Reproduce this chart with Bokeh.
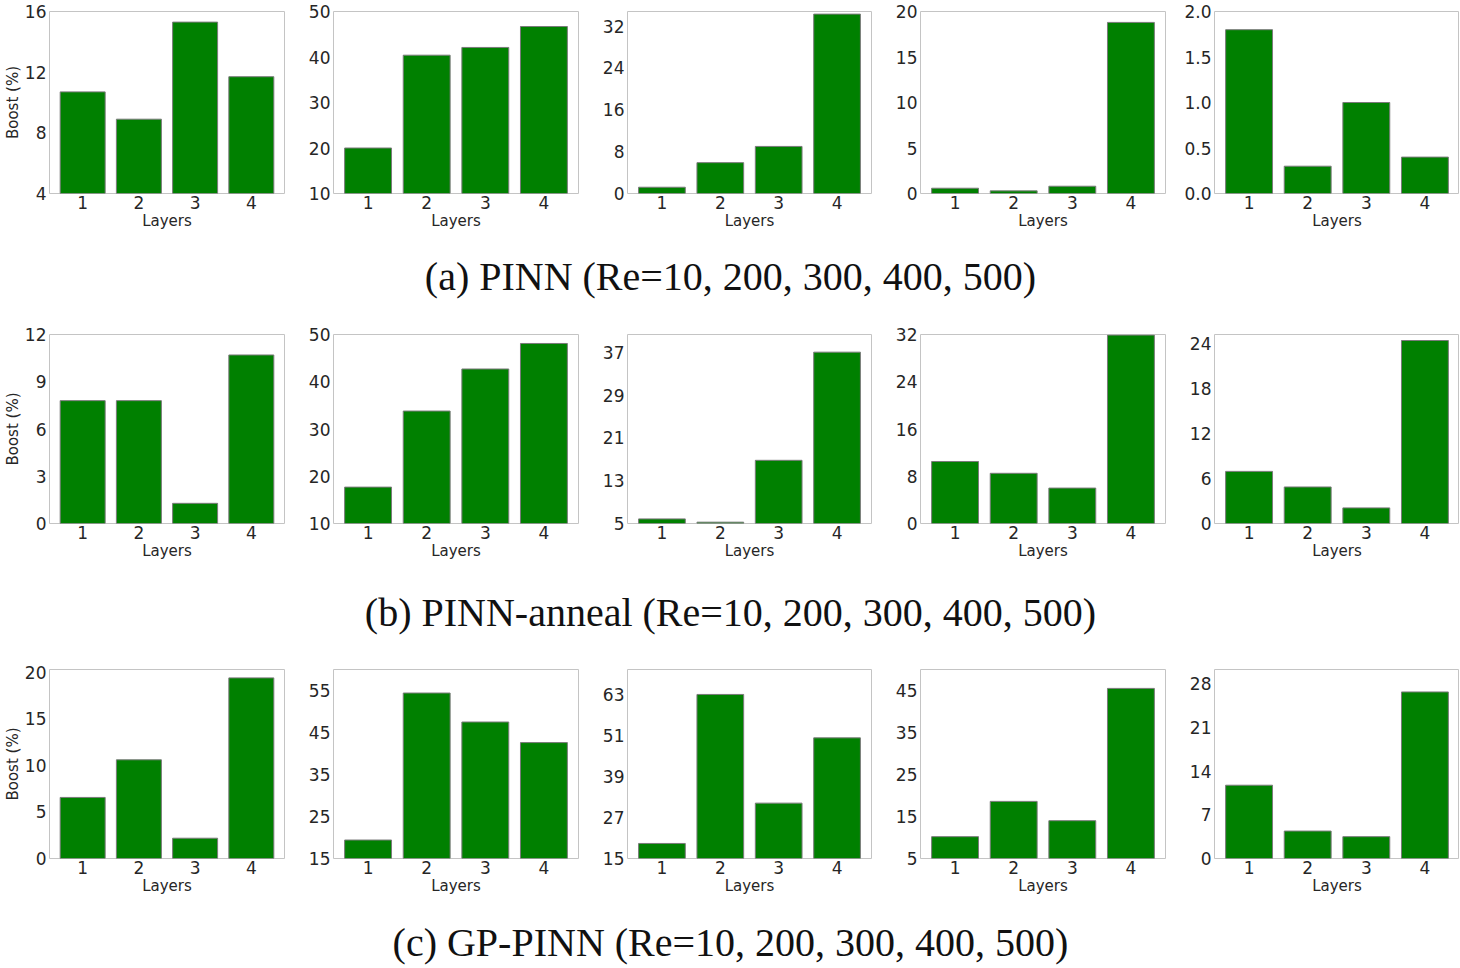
from bokeh.plotting import figure
from bokeh.layouts import column, row
from bokeh.models import ColumnDataSource, FixedTicker, Label
from bokeh.embed import file_html
from bokeh.resources import INLINE

# ---------------- data ----------------
layers = [1, 2, 3, 4]

captions = [
    "(a) PINN (Re=10, 200, 300, 400, 500)",
    "(b) PINN-anneal (Re=10, 200, 300, 400, 500)",
    "(c) GP-PINN (Re=10, 200, 300, 400, 500)",
]

# boost (%) per layer count, one list per Re (10, 200, 300, 400, 500)
boost_pinn = [
    [10.7, 8.9, 15.3, 11.7],
    [20.0, 40.4, 42.1, 46.7],
    [1.2, 5.9, 9.0, 34.3],
    [0.58, 0.29, 0.8, 18.8],
    [1.80, 0.30, 1.00, 0.40],
]
boost_anneal = [
    [7.8, 7.8, 1.28, 10.7],
    [17.7, 33.8, 42.7, 48.1],
    [5.86, 5.25, 16.8, 37.0],
    [10.5, 8.5, 6.0, 31.9],
    [6.95, 4.87, 2.08, 24.4],
]
boost_gp = [
    [6.56, 10.6, 2.18, 19.4],
    [19.4, 54.4, 47.5, 42.6],
    [19.4, 63.0, 31.2, 50.3],
    [10.2, 18.6, 14.0, 45.5],
    [11.75, 4.4, 3.5, 26.7],
]

ylim_pinn = [(4, 16), (10, 50), (0, 34.8), (0, 20), (0, 2.0)]
ylim_anneal = [(0, 12), (10, 50), (5, 40.3), (0, 32), (0, 25.2)]
ylim_gp = [(0, 20.3), (15, 60), (15, 70.3), (5, 50), (0, 30.3)]

yticks_pinn = [[4, 8, 12, 16], [10, 20, 30, 40, 50], [0, 8, 16, 24, 32],
               [0, 5, 10, 15, 20], [0.0, 0.5, 1.0, 1.5, 2.0]]
yticks_anneal = [[0, 3, 6, 9, 12], [10, 20, 30, 40, 50], [5, 13, 21, 29, 37],
                 [0, 8, 16, 24, 32], [0, 6, 12, 18, 24]]
yticks_gp = [[0, 5, 10, 15, 20], [15, 25, 35, 45, 55], [15, 27, 39, 51, 63],
             [5, 15, 25, 35, 45], [0, 7, 14, 21, 28]]

ytick_labels_pinn_re500 = ["0.0", "0.5", "1.0", "1.5", "2.0"]

# ---------------- layout constants ----------------
FIG_W = [286, 294, 293, 294, 292]
BORDER_L = [40, 47, 47, 47, 47]
BORDER_R = [2, 2, 2, 2, 0]
TXT = "#262626"
FONT = "DejaVu Sans"


def make_panel(vals, ylim, ticks, col, top_border, frame_h, labels=None):
    p = figure(width=FIG_W[col], height=top_border + frame_h + 42,
               x_range=(0.41, 4.59), y_range=ylim,
               toolbar_location=None, output_backend="svg",
               min_border_left=BORDER_L[col], min_border_right=BORDER_R[col],
               min_border_top=top_border, min_border_bottom=42)
    src = ColumnDataSource(dict(x=layers, top=vals))
    p.vbar(x="x", top="top", bottom=0, width=0.8, source=src,
           fill_color="#008000", line_color="#7a7a7a", line_width=1)
    p.xgrid.visible = False
    p.ygrid.visible = False
    p.outline_line_color = "#c4c4c4"
    p.outline_line_width = 1
    p.background_fill_color = "white"
    p.border_fill_color = "white"

    p.xaxis.ticker = FixedTicker(ticks=layers)
    p.yaxis.ticker = FixedTicker(ticks=ticks)
    if labels is not None:
        p.yaxis.major_label_overrides = {t: l for t, l in zip(ticks, labels)}
    p.xaxis.axis_label = "Layers"
    if col == 0:
        p.yaxis.axis_label = "Boost (%)"
    for ax in (p.xaxis[0], p.yaxis[0]):
        ax.axis_line_color = None
        ax.major_tick_line_color = None
        ax.minor_tick_line_color = None
        ax.major_tick_out = 0
        ax.major_tick_in = 0
        ax.major_label_text_font = FONT
        ax.major_label_text_font_size = "17px"
        ax.major_label_text_color = TXT
        ax.major_label_standoff = 2
        ax.axis_label_text_font = FONT
        ax.axis_label_text_font_size = "15px"
        ax.axis_label_text_font_style = "normal"
        ax.axis_label_text_color = TXT
        ax.axis_label_standoff = 0
    p.yaxis.major_label_standoff = 3
    return p


def make_caption(text, height, center_from_top):
    c = figure(width=sum(FIG_W), height=height, x_range=(0, 1), y_range=(0, 1),
               toolbar_location=None, output_backend="svg",
               min_border=0)
    c.axis.visible = False
    c.grid.visible = False
    c.outline_line_color = None
    c.add_layout(Label(x=730, y=height - center_from_top,
                       x_units="screen", y_units="screen", text=text,
                       text_align="center", text_baseline="middle",
                       text_font="Liberation Serif", text_font_size="40px",
                       text_color="#111111"))
    return c


# (data, ylims, ticks, top border, frame height, caption, block height, caption centre)
rows_spec = [
    (boost_pinn, ylim_pinn, yticks_pinn, 11, 182, captions[0], 91, 41),
    (boost_anneal, ylim_anneal, yticks_anneal, 8, 189, captions[1], 96, 47),
    (boost_gp, ylim_gp, yticks_gp, 8, 189, captions[2], 67, 42),
]

blocks = []
for r, (data, ylims, ticks, tb, fh, cap, cap_h, cap_c) in enumerate(rows_spec):
    figs = []
    for c in range(5):
        labels = ytick_labels_pinn_re500 if (r == 0 and c == 4) else None
        figs.append(make_panel(data[c], ylims[c], ticks[c], c, tb, fh, labels))
    blocks.append(row(*figs, spacing=0))
    blocks.append(make_caption(cap, cap_h, cap_c))

layout = column(*blocks, spacing=0)

open("out.html", "w").write(file_html(layout, INLINE))
